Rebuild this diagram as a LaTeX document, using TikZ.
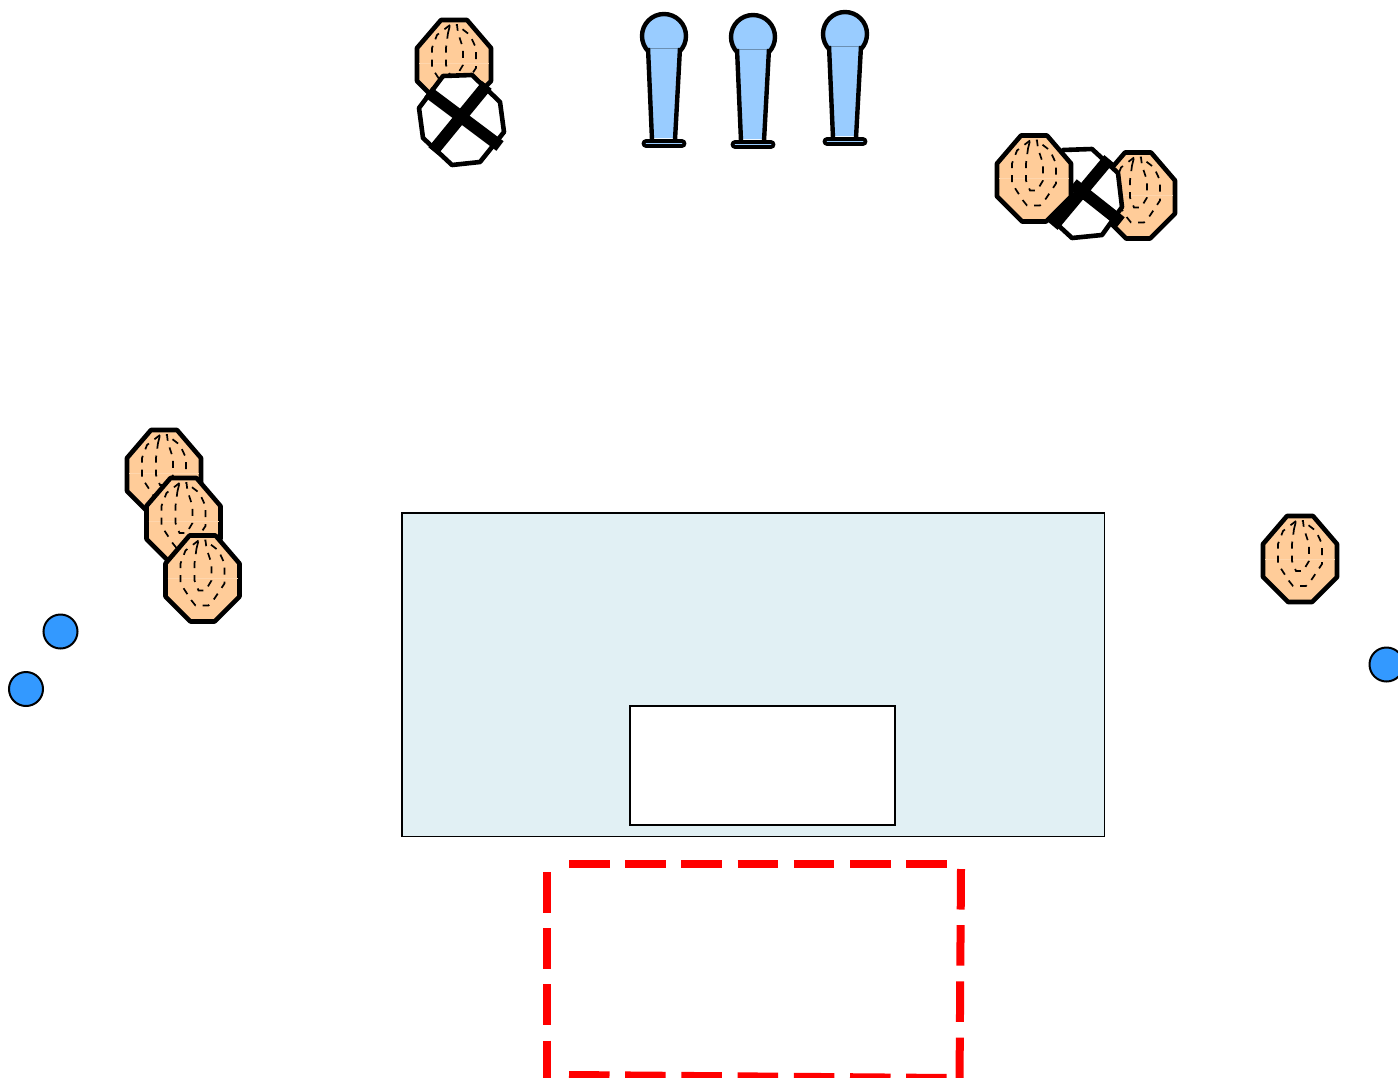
\documentclass[tikz,border=0pt]{standalone}
\usepackage{xcolor}
\usepackage{tikz}
\usetikzlibrary{calc}
\definecolor{skinOrange}{HTML}{FFCC99}
\definecolor{bodyBlue}{HTML}{99CCFF}
\definecolor{dotBlue}{HTML}{3399FF}
\definecolor{tableBlue}{HTML}{E1F0F4}

\begin{document}
\begin{tikzpicture}[
    x=1pt, y=-1pt,
    octline/.style={line width=4.6pt, line join=round},
    hairdash/.style={line width=1.7pt, dash pattern=on 7pt off 7pt},
    crossbar/.style={line width=12pt},
    dot/.style={circle, draw=black, line width=2pt, fill=dotBlue, minimum size=34pt, inner sep=0pt},
    reddash/.style={draw=red, line width=8pt, dash pattern=on 40.5pt off 15.7pt},
    person/.pic={
      \draw[octline, fill=skinOrange] (-13,-43) -- (13,-43) -- (37,-15) -- (37,18) -- (12,43)
        -- (-12,43) -- (-37,18) -- (-37,-15) -- cycle;
      \draw[skinOrange!80!white, line width=0.5pt] (-35,0) -- (35,0);
      % outer and inner dashes
      \draw[hairdash] (-4,-38) -- (-17,-28) -- (-22,-15) -- (-22,5) -- (-11,22) -- (-7,27) -- (6,27) -- (12,20) -- (22,5) -- (22,-15) -- (16,-28) -- (3,-38);
      \draw[hairdash] (-6,-30) -- (-4,-38) -- (3,-38) -- (4,-30) -- (9,-15) -- (9,2) -- (3,12) -- (-4,12) -- (-8,2) -- (-8,-15) -- cycle;
    },
    figure/.pic={
      \draw[line width=4.4pt, fill=bodyBlue] (0,0) circle (22);
      \fill[bodyBlue] (-16,12) -- (16,12) -- (11,102) -- (-12,102) -- cycle;
      \draw[black!30!bodyBlue, line width=0.5pt] (-16,12) -- (16,12);
      \draw[line width=4.4pt] (-16,12) -- (-12,104);
      \draw[line width=4.4pt] (16,12) -- (11,104);
      \draw[line width=3.6pt, fill=bodyBlue, rounded corners=2.4pt] (-20.5,105) rectangle (20.5,110);
    }
  ]
  \useasboundingbox (0,0) rectangle (1398,1077);
  % table
  \draw[line width=1.8pt, fill=tableBlue] (402,513) rectangle (1104.5,836.5);
  \draw[line width=1.8pt, fill=white] (630,706) rectangle (895,825);
  % red area
  \draw[reddash] (569,864) -- (950,864);
  \draw[reddash] (961,869) -- (959.5,1085);
  \draw[reddash] (569,1075) -- (950,1078);
  \draw[reddash] (546.5,872) -- (546.5,1085);
  % blue figures
  \foreach \px/\py in {664/36, 753/37, 845/34} {
    \pic at (\px,\py) {figure};
  }
  % dots
  \node[dot] (dotA) at (60.5,631.5) {};
  \node[dot] (dotB) at (26,689) {};
  \node[dot] (dotC) at (1386.5,664.5) {};
  % left group and right one
  \foreach \px/\py in {164/473, 183.5/521, 202.5/578.5, 1300/559} {
    \pic at (\px,\py) {person};
  }
  % top left, crossed out
  \pic at (454,63) {person};
  \draw[octline, fill=white] (443,76) -- (472,75) -- (500,102) -- (504,132) -- (480,162) -- (452,165) -- (423,138) -- (419,108) -- cycle;
  \draw[crossbar] (428,92) -- (500,146);
  \draw[crossbar] (487,85) -- (433,151);
  % top right, crossed out
  \pic at (1138,195.5) {person};
  \draw[octline, fill=white] (1063,150) -- (1092,149) -- (1118,173) -- (1122,207) -- (1102,235) -- (1072,238) -- (1047,215) -- (1042,185) -- cycle;
  \pic at (1034,178.5) {person};
  \draw[crossbar] (1109,159) -- (1053,226);
  \draw[crossbar] (1073,184) -- (1121,222);
\end{tikzpicture}
\end{document}
